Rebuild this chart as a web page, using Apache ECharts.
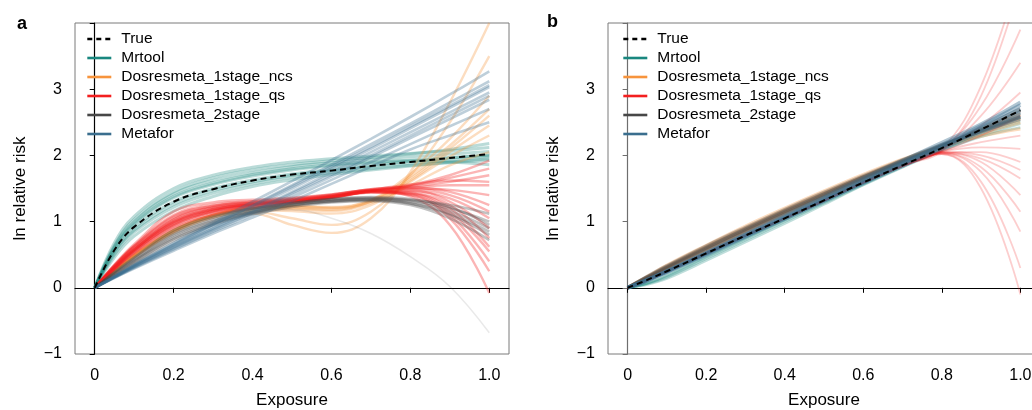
<!DOCTYPE html>
<html>
<head>
<meta charset="utf-8">
<script src="https://cdn.jsdelivr.net/npm/echarts@6/dist/echarts.min.js"></script>
<style>
  html, body { margin: 0; padding: 0; background: #fff; }
  #chart { width: 1032px; height: 410px; }
</style>
</head>
<body>
<div id="chart"></div>
<script>
// Exposure grid shared by every fitted curve
const EXPOSURE = [0, 0.05, 0.1, 0.2, 0.3, 0.4, 0.5, 0.6, 0.7, 0.8, 0.9, 1.0];
const X_TICKS = [0, 0.2, 0.4, 0.6, 0.8, 1.0];

const METHODS = ['True', 'Mrtool', 'Dosresmeta_1stage_ncs', 'Dosresmeta_1stage_qs', 'Dosresmeta_2stage', 'Metafor'];
const COLORS = {
  'True': '#000000',
  'Mrtool': '#19877f',
  'Dosresmeta_1stage_ncs': '#f7943c',
  'Dosresmeta_1stage_qs': '#f31f1f',
  'Dosresmeta_2stage': '#474747',
  'Metafor': '#3a6e8e'
};

// ---- Panel a: non-linear true curve ----
const A_TRUE = [0, 0.57, 0.92, 1.30, 1.49, 1.62, 1.71, 1.77, 1.84, 1.90, 1.96, 2.02];

const A_MRTOOL = [
  [0, 0.62, 1.00, 1.42, 1.62, 1.74, 1.83, 1.89, 1.94, 1.98, 2.02, 2.06],
  [0, 0.55, 0.90, 1.30, 1.50, 1.63, 1.72, 1.79, 1.85, 1.91, 1.96, 2.01],
  [0, 0.68, 1.08, 1.50, 1.70, 1.82, 1.90, 1.95, 1.99, 2.03, 2.07, 2.12],
  [0, 0.50, 0.84, 1.22, 1.43, 1.57, 1.67, 1.74, 1.80, 1.85, 1.90, 1.95],
  [0, 0.58, 0.95, 1.36, 1.56, 1.69, 1.78, 1.84, 1.89, 1.93, 1.97, 2.00],
  [0, 0.46, 0.78, 1.16, 1.38, 1.53, 1.63, 1.71, 1.78, 1.84, 1.89, 1.93],
  [0, 0.64, 1.03, 1.45, 1.66, 1.78, 1.86, 1.92, 1.97, 2.02, 2.09, 2.18],
  [0, 0.60, 0.97, 1.38, 1.58, 1.71, 1.80, 1.86, 1.90, 1.92, 1.90, 1.86],
  [0, 0.53, 0.87, 1.26, 1.47, 1.60, 1.70, 1.77, 1.83, 1.88, 1.93, 1.98]
];

const A_NCS = [
  [0, 0.25, 0.48, 0.85, 1.08, 1.20, 1.22, 1.20, 1.30, 1.65, 2.10, 2.60],
  [0, 0.26, 0.50, 0.88, 1.10, 1.22, 1.24, 1.22, 1.33, 1.72, 2.25, 2.90],
  [0, 0.24, 0.46, 0.83, 1.06, 1.17, 1.16, 1.12, 1.25, 1.60, 1.98, 2.30],
  [0, 0.25, 0.49, 0.86, 1.09, 1.15, 1.05, 0.95, 1.15, 1.70, 2.50, 3.50],
  [0, 0.26, 0.50, 0.87, 1.10, 1.21, 1.23, 1.21, 1.32, 1.68, 2.15, 2.70],
  [0, 0.24, 0.47, 0.84, 1.07, 1.12, 0.95, 0.83, 1.05, 1.75, 2.80, 4.00],
  [0, 0.25, 0.48, 0.86, 1.09, 1.19, 1.19, 1.16, 1.28, 1.55, 1.85, 2.05],
  [0, 0.26, 0.49, 0.87, 1.10, 1.21, 1.20, 1.18, 1.30, 1.62, 2.05, 2.45]
];

const A_QS = [
  [0, 0.30, 0.56, 0.95, 1.15, 1.24, 1.30, 1.37, 1.46, 1.55, 1.70, 1.92],
  [0, 0.34, 0.64, 1.10, 1.26, 1.31, 1.35, 1.41, 1.49, 1.53, 1.60, 1.70],
  [0, 0.27, 0.51, 0.90, 1.10, 1.20, 1.28, 1.36, 1.46, 1.50, 1.48, 1.40],
  [0, 0.35, 0.66, 1.15, 1.29, 1.33, 1.36, 1.41, 1.48, 1.49, 1.40, 1.15],
  [0, 0.29, 0.55, 0.96, 1.16, 1.25, 1.31, 1.38, 1.47, 1.47, 1.30, 0.90],
  [0, 0.31, 0.58, 0.99, 1.18, 1.26, 1.31, 1.37, 1.44, 1.42, 1.15, 0.55],
  [0, 0.28, 0.53, 0.92, 1.12, 1.22, 1.29, 1.36, 1.44, 1.40, 1.05, 0.25],
  [0, 0.33, 0.62, 1.06, 1.23, 1.29, 1.33, 1.39, 1.46, 1.38, 0.95, -0.08],
  [0, 0.31, 0.58, 0.99, 1.18, 1.26, 1.31, 1.38, 1.48, 1.56, 1.62, 1.60],
  [0, 0.29, 0.56, 0.97, 1.16, 1.25, 1.30, 1.36, 1.45, 1.46, 1.35, 1.05],
  [0, 0.34, 0.63, 1.08, 1.24, 1.30, 1.34, 1.40, 1.47, 1.44, 1.25, 0.75],
  [0, 0.32, 0.60, 1.01, 1.19, 1.27, 1.32, 1.38, 1.46, 1.51, 1.55, 1.55],
  [0, 0.30, 0.57, 1.03, 1.21, 1.28, 1.33, 1.40, 1.49, 1.52, 1.45, 1.25],
  [0, 0.28, 0.54, 0.94, 1.14, 1.23, 1.29, 1.36, 1.45, 1.43, 1.20, 0.62],
  [0, 0.33, 0.61, 1.04, 1.22, 1.28, 1.32, 1.38, 1.47, 1.54, 1.66, 1.80],
  [0, 0.30, 0.58, 1.00, 1.19, 1.26, 1.31, 1.37, 1.45, 1.41, 1.10, 0.40]
];

const A_2STAGE = [
  [0, 0.20, 0.40, 0.76, 0.99, 1.14, 1.25, 1.31, 1.33, 1.28, 1.12, 0.85],
  [0, 0.23, 0.45, 0.84, 1.06, 1.19, 1.28, 1.34, 1.36, 1.32, 1.20, 1.00],
  [0, 0.18, 0.36, 0.71, 0.95, 1.11, 1.22, 1.29, 1.31, 1.25, 1.05, 0.72],
  [0, 0.22, 0.43, 0.81, 1.03, 1.17, 1.27, 1.33, 1.35, 1.33, 1.25, 1.12],
  [0, 0.19, 0.38, 0.74, 0.97, 1.13, 1.24, 1.30, 1.32, 1.27, 1.10, 0.80],
  [0, 0.24, 0.46, 0.87, 1.08, 1.20, 1.28, 1.34, 1.37, 1.34, 1.22, 0.95],
  [0, 0.21, 0.41, 0.79, 1.01, 1.15, 1.25, 1.31, 1.34, 1.30, 1.16, 0.90]
];
// single outlying two-stage fit that bends far downward
const A_2STAGE_OUTLIER = [0, 0.22, 0.42, 0.74, 0.96, 1.12, 1.18, 1.05, 0.82, 0.47, 0.02, -0.68];

const A_METAFOR = [
  [0, 0.16, 0.32, 0.62, 0.90, 1.17, 1.45, 1.75, 2.05, 2.35, 2.65, 2.95],
  [0, 0.17, 0.34, 0.66, 0.96, 1.25, 1.55, 1.86, 2.17, 2.48, 2.80, 3.12],
  [0, 0.15, 0.30, 0.58, 0.85, 1.10, 1.36, 1.63, 1.90, 2.17, 2.44, 2.70],
  [0, 0.17, 0.35, 0.68, 0.99, 1.30, 1.61, 1.93, 2.25, 2.58, 2.92, 3.27],
  [0, 0.16, 0.31, 0.60, 0.87, 1.13, 1.40, 1.68, 1.97, 2.26, 2.55, 2.84],
  [0, 0.16, 0.33, 0.64, 0.93, 1.21, 1.50, 1.80, 2.10, 2.41, 2.72, 3.03],
  [0, 0.15, 0.29, 0.56, 0.82, 1.06, 1.31, 1.57, 1.83, 2.09, 2.30, 2.50],
  [0, 0.17, 0.34, 0.65, 0.95, 1.24, 1.53, 1.83, 2.13, 2.44, 2.75, 3.06],
  [0, 0.16, 0.32, 0.61, 0.89, 1.15, 1.43, 1.71, 2.00, 2.30, 2.60, 2.90]
];

// ---- Panel b: near-linear true curve ----
const B_TRUE = [0, 0.12, 0.25, 0.52, 0.79, 1.05, 1.32, 1.59, 1.85, 2.11, 2.39, 2.68];

const B_MRTOOL = [
  [0, 0.06, 0.16, 0.44, 0.72, 1.00, 1.28, 1.56, 1.83, 2.08, 2.30, 2.48],
  [0, 0.07, 0.18, 0.46, 0.74, 1.02, 1.30, 1.58, 1.85, 2.10, 2.33, 2.52],
  [0, 0.05, 0.14, 0.41, 0.69, 0.97, 1.26, 1.55, 1.82, 2.07, 2.28, 2.42],
  [0, 0.07, 0.19, 0.48, 0.76, 1.04, 1.32, 1.60, 1.87, 2.12, 2.36, 2.58]
];

const B_NCS = [
  [0, 0.16, 0.32, 0.62, 0.90, 1.17, 1.43, 1.68, 1.92, 2.14, 2.33, 2.50],
  [0, 0.15, 0.30, 0.59, 0.87, 1.14, 1.40, 1.66, 1.91, 2.15, 2.39, 2.62],
  [0, 0.17, 0.34, 0.64, 0.93, 1.20, 1.46, 1.71, 1.94, 2.13, 2.29, 2.40],
  [0, 0.14, 0.29, 0.57, 0.85, 1.12, 1.38, 1.64, 1.89, 2.14, 2.37, 2.56]
];

const B_QS = [
  [0, 0.12, 0.25, 0.52, 0.79, 1.05, 1.32, 1.59, 1.85, 2.08, 2.60, 3.40],
  [0, 0.12, 0.25, 0.52, 0.79, 1.05, 1.32, 1.59, 1.85, 2.07, 2.90, 4.60],
  [0, 0.12, 0.25, 0.52, 0.79, 1.05, 1.32, 1.59, 1.85, 2.08, 2.45, 2.95],
  [0, 0.12, 0.25, 0.52, 0.79, 1.05, 1.32, 1.59, 1.84, 2.06, 2.20, 2.30],
  [0, 0.12, 0.25, 0.52, 0.79, 1.05, 1.32, 1.59, 1.84, 2.05, 2.05, 1.90],
  [0, 0.12, 0.25, 0.52, 0.79, 1.05, 1.32, 1.59, 1.84, 2.04, 1.90, 1.40],
  [0, 0.12, 0.25, 0.52, 0.79, 1.05, 1.32, 1.59, 1.84, 2.03, 1.75, 0.85],
  [0, 0.12, 0.25, 0.52, 0.79, 1.05, 1.32, 1.59, 1.84, 2.02, 1.60, 0.30],
  [0, 0.12, 0.25, 0.52, 0.79, 1.05, 1.32, 1.59, 1.84, 2.02, 1.50, -0.10],
  [0, 0.12, 0.25, 0.52, 0.79, 1.05, 1.32, 1.59, 1.85, 2.09, 2.75, 3.90],
  [0, 0.12, 0.25, 0.52, 0.79, 1.05, 1.32, 1.59, 1.84, 2.05, 2.12, 2.10],
  [0, 0.12, 0.25, 0.52, 0.79, 1.05, 1.32, 1.59, 1.84, 2.04, 1.95, 1.65],
  [0, 0.12, 0.25, 0.52, 0.79, 1.05, 1.32, 1.59, 1.85, 2.10, 3.05, 4.80],
  [0, 0.12, 0.25, 0.52, 0.79, 1.05, 1.32, 1.59, 1.84, 2.06, 2.30, 2.60],
  [0, 0.12, 0.25, 0.52, 0.79, 1.05, 1.32, 1.59, 1.84, 2.03, 1.82, 1.15],
  [0, 0.12, 0.25, 0.52, 0.79, 1.05, 1.32, 1.59, 1.84, 2.05, 2.00, 1.78]
];

const B_2STAGE = [
  [0, 0.16, 0.31, 0.60, 0.88, 1.15, 1.41, 1.67, 1.92, 2.15, 2.38, 2.60],
  [0, 0.15, 0.30, 0.58, 0.86, 1.13, 1.39, 1.65, 1.90, 2.14, 2.40, 2.66],
  [0, 0.17, 0.33, 0.63, 0.91, 1.18, 1.44, 1.69, 1.93, 2.16, 2.36, 2.55],
  [0, 0.14, 0.28, 0.56, 0.84, 1.11, 1.37, 1.63, 1.89, 2.13, 2.41, 2.70],
  [0, 0.16, 0.32, 0.61, 0.89, 1.16, 1.42, 1.67, 1.91, 2.14, 2.37, 2.58]
];

const B_METAFOR = [
  [0, 0.12, 0.25, 0.52, 0.80, 1.07, 1.35, 1.62, 1.89, 2.16, 2.45, 2.76],
  [0, 0.12, 0.25, 0.53, 0.81, 1.09, 1.37, 1.65, 1.92, 2.19, 2.47, 2.80],
  [0, 0.11, 0.24, 0.51, 0.78, 1.05, 1.32, 1.59, 1.86, 2.12, 2.38, 2.64],
  [0, 0.12, 0.25, 0.52, 0.79, 1.06, 1.33, 1.60, 1.87, 2.14, 2.42, 2.70],
  [0, 0.11, 0.24, 0.50, 0.77, 1.04, 1.31, 1.58, 1.84, 2.10, 2.35, 2.58]
];

const FONT = '"Liberation Sans", Arial, Helvetica, sans-serif';

function pairs(ys) {
  return EXPOSURE.map((x, i) => [x, ys[i]]);
}

function curve(name, ys, panel, width, opacity) {
  return {
    type: 'line',
    name: name,
    xAxisIndex: panel,
    yAxisIndex: panel,
    data: pairs(ys),
    smooth: 0.4,
    symbol: 'none',
    silent: true,
    color: COLORS[name],
    emphasis: { disabled: true },
    lineStyle: { color: COLORS[name], width: width, opacity: opacity }
  };
}

function trueCurve(ys, panel) {
  return {
    type: 'line',
    name: 'True',
    xAxisIndex: panel,
    yAxisIndex: panel,
    data: pairs(ys),
    smooth: 0.4,
    symbol: 'none',
    silent: true,
    color: '#000',
    z: 5,
    emphasis: { disabled: true },
    lineStyle: { color: '#000', width: 2, type: [6, 4] }
  };
}

// Empty series that give the legend solid keys
const series = METHODS.map(name => ({
  type: 'line',
  name: name,
  xAxisIndex: 0,
  yAxisIndex: 0,
  data: [],
  symbol: 'none',
  color: COLORS[name],
  lineStyle: name === 'True'
    ? { color: '#000', width: 2.6, type: [5, 4] }
    : { color: COLORS[name], width: 2.8 }
}));

// panel a
A_MRTOOL.forEach(c => series.push(curve('Mrtool', c, 0, 3.0, 0.3)));
A_NCS.forEach(c => series.push(curve('Dosresmeta_1stage_ncs', c, 0, 2.4, 0.32)));
A_QS.forEach(c => series.push(curve('Dosresmeta_1stage_qs', c, 0, 2.4, 0.33)));
A_2STAGE.forEach(c => series.push(curve('Dosresmeta_2stage', c, 0, 2.6, 0.33)));
series.push(curve('Dosresmeta_2stage', A_2STAGE_OUTLIER, 0, 1.5, 0.12));
A_METAFOR.forEach(c => series.push(curve('Metafor', c, 0, 2.6, 0.33)));
series.push(trueCurve(A_TRUE, 0));

// panel b
B_MRTOOL.forEach(c => series.push(curve('Mrtool', c, 1, 2.6, 0.28)));
B_NCS.forEach(c => series.push(curve('Dosresmeta_1stage_ncs', c, 1, 3.4, 0.33)));
B_QS.forEach(c => series.push(curve('Dosresmeta_1stage_qs', c, 1, 1.8, 0.22)));
B_2STAGE.forEach(c => series.push(curve('Dosresmeta_2stage', c, 1, 3.6, 0.35)));
B_METAFOR.forEach(c => series.push(curve('Metafor', c, 1, 3.8, 0.4)));
series.push(trueCurve(B_TRUE, 1));

function xAxis(grid) {
  return {
    type: 'value',
    gridIndex: grid,
    min: -0.05,
    max: 1.05,
    name: 'Exposure',
    nameLocation: 'middle',
    nameGap: 38,
    nameTextStyle: { fontFamily: FONT, fontSize: 17, color: '#000' },
    splitLine: { show: false },
    axisLine: { show: true, lineStyle: { color: '#000', width: 1.2 } },
    axisTick: { show: true, length: 5, customValues: X_TICKS, lineStyle: { color: '#000' } },
    axisLabel: {
      customValues: X_TICKS,
      margin: 14,
      fontFamily: FONT,
      fontSize: 16,
      color: '#000',
      formatter: v => (v === 0 ? '0' : v.toFixed(1))
    }
  };
}

function yAxis(grid, lineColor) {
  return {
    type: 'value',
    gridIndex: grid,
    min: -1,
    max: 4,
    interval: 1,
    name: 'ln relative risk',
    nameLocation: 'middle',
    nameGap: 46,
    nameTextStyle: { fontFamily: FONT, fontSize: 17, color: '#000' },
    splitLine: { show: false },
    axisLine: { show: true, lineStyle: { color: lineColor, width: 1.2 } },
    axisTick: { show: true, length: 5, lineStyle: { color: lineColor } },
    axisLabel: {
      margin: 13,
      fontFamily: FONT,
      fontSize: 16,
      color: '#000',
      formatter: v => (v === 4 ? '' : (v < 0 ? '\u2212' + Math.abs(v) : String(v)))
    }
  };
}

function legend(left) {
  return {
    left: left,
    top: 31,
    orient: 'vertical',
    padding: 0,
    data: METHODS,
    itemWidth: 24,
    itemHeight: 16,
    itemGap: 3,
    selectedMode: false,
    itemStyle: { opacity: 0 },
    lineStyle: { width: 2.6 },
    textStyle: { fontFamily: FONT, fontSize: 15.5, color: '#000', padding: [0, 0, 0, 5] }
  };
}

const chart = echarts.init(document.getElementById('chart'), null, { renderer: 'canvas' });
chart.setOption({
  animation: false,
  backgroundColor: '#fff',
  title: [
    { text: 'a', left: 12, top: 10, textStyle: { fontFamily: FONT, fontSize: 18, fontWeight: 'bold', color: '#000' } },
    { text: 'b', left: 542, top: 8, textStyle: { fontFamily: FONT, fontSize: 18, fontWeight: 'bold', color: '#000' } }
  ],
  legend: [legend(86), legend(622)],
  grid: [
    { left: 75, top: 23, width: 434, height: 331, outerBoundsMode: 'none', show: true, borderColor: '#7a7a7a', borderWidth: 1 },
    { left: 608, top: 23, width: 432, height: 331, outerBoundsMode: 'none', show: true, borderColor: '#7a7a7a', borderWidth: 1 }
  ],
  xAxis: [xAxis(0), xAxis(1)],
  yAxis: [yAxis(0, '#000'), yAxis(1, '#6e6e6e')],
  series: series
});
</script>
</body>
</html>
